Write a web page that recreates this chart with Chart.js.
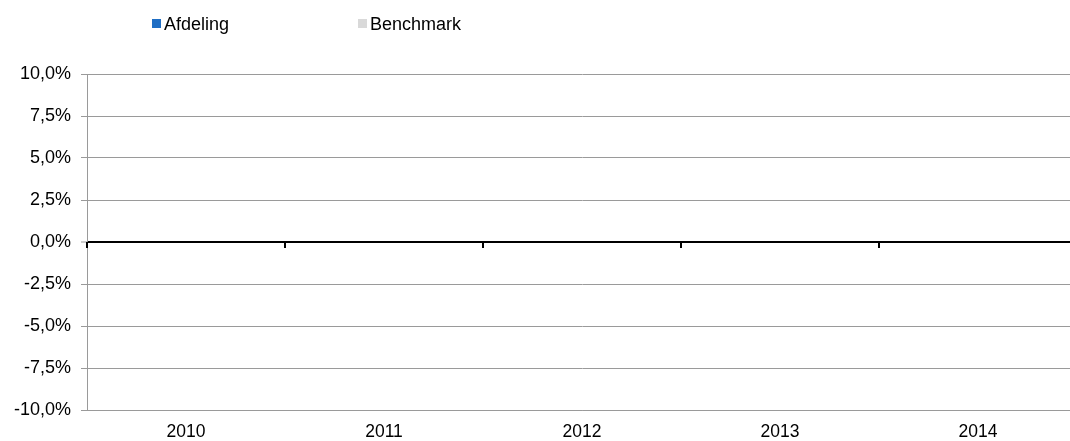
<!DOCTYPE html>
<html><head><meta charset="utf-8">
<script src="https://cdn.jsdelivr.net/npm/chart.js@4.4.1/dist/chart.umd.min.js"></script>
<style>
html,body{margin:0;padding:0;background:#fff;overflow:hidden;width:1070px;height:441px;}
#wrap{position:absolute;left:0;top:0;width:1080px;height:441px;}
canvas{position:absolute;left:0;top:0;}
.lg{position:absolute;font-family:"Liberation Sans",Arial,sans-serif;font-size:18px;line-height:21px;color:#000;white-space:nowrap;}
.sw{position:absolute;width:9px;height:9px;}
</style></head><body>
<div id="wrap">
<canvas id="c" width="1080" height="441"></canvas>
<div id="legend"></div>
</div>
<script>
const categories = ['2010', '2011', '2012', '2013', '2014'];
const afdeling = [0, 0, 0, 0, 0];
const benchmark = [0, 0, 0, 0, 0];
const yTickValues = [-0.1, -0.075, -0.05, -0.025, 0, 0.025, 0.05, 0.075, 0.1];

const FONT = '"Liberation Sans", Arial, sans-serif';
const GRID = '#9a9a9a';

function fmtPct(v) {
  const r = Math.round(v * 1000) / 10;
  return (r === 0 ? 0 : r).toFixed(1).replace('.', ',') + '%';
}

const zeroTicks = {
  id: 'zeroTicks',
  afterDatasetsDraw(chart) {
    const x = chart.scales.x, y = chart.scales.y, ctx = chart.ctx;
    const y0 = Math.round(y.getPixelForValue(0));
    ctx.save();
    ctx.strokeStyle = '#000';
    ctx.lineWidth = 2;
    ctx.beginPath();
    for (let i = 0; i <= categories.length; i++) {
      let px;
      if (i === 0) px = x.left;
      else if (i === categories.length) px = x.right;
      else px = (x.getPixelForValue(i - 1) + x.getPixelForValue(i)) / 2;
      ctx.moveTo(px, y0);
      ctx.lineTo(px, y0 + 6);
    }
    ctx.stroke();
    ctx.restore();
  }
};

const chart = new Chart(document.getElementById('c'), {
  type: 'bar',
  data: {
    labels: categories,
    datasets: [
      { label: 'Afdeling', data: afdeling, backgroundColor: '#1F6EC4', borderWidth: 0 },
      { label: 'Benchmark', data: benchmark, backgroundColor: '#D9D9D9', borderWidth: 0 }
    ]
  },
  options: {
    responsive: false,
    devicePixelRatio: 1,
    animation: false,
    layout: { padding: { top: 74, left: 0, right: 3, bottom: 0 } },
    plugins: { legend: { display: false }, tooltip: { enabled: false } },
    scales: {
      x: {
        offset: true,
        grid: { display: false, drawTicks: false },
        border: { display: true, color: GRID, width: 1 },
        ticks: { color: '#000', padding: 12, font: { family: FONT, size: 17.5 } },
        afterFit(s) { s.height = 31; }
      },
      y: {
        min: -0.1, max: 0.1,
        afterBuildTicks(s) { s.ticks = yTickValues.map(v => ({ value: v })); },
        grid: {
          color: c => (c.tick && Math.abs(c.tick.value) < 1e-9) ? '#000' : GRID,
          lineWidth: c => (c.tick && Math.abs(c.tick.value) < 1e-9) ? 2 : 1,
          tickColor: GRID, tickWidth: 1, tickLength: 6, drawTicks: true
        },
        border: { display: true, color: GRID, width: 1 },
        ticks: { color: '#000', padding: 10, font: { family: FONT, size: 18 }, callback: v => fmtPct(v) },
        afterFit(s) { s.width = 87; }
      }
    }
  },
  plugins: [zeroTicks]
});

// legend
const legendPos = [{ sw: 152, tx: 164 }, { sw: 358, tx: 370 }];
const lg = document.getElementById('legend');
chart.data.datasets.forEach((ds, i) => {
  const sw = document.createElement('div');
  sw.className = 'sw';
  sw.style.left = legendPos[i].sw + 'px';
  sw.style.top = '19px';
  sw.style.background = ds.backgroundColor;
  lg.appendChild(sw);
  const t = document.createElement('div');
  t.className = 'lg';
  t.style.left = legendPos[i].tx + 'px';
  t.style.top = '14px';
  t.textContent = ds.label;
  lg.appendChild(t);
});
</script>
</body></html>
